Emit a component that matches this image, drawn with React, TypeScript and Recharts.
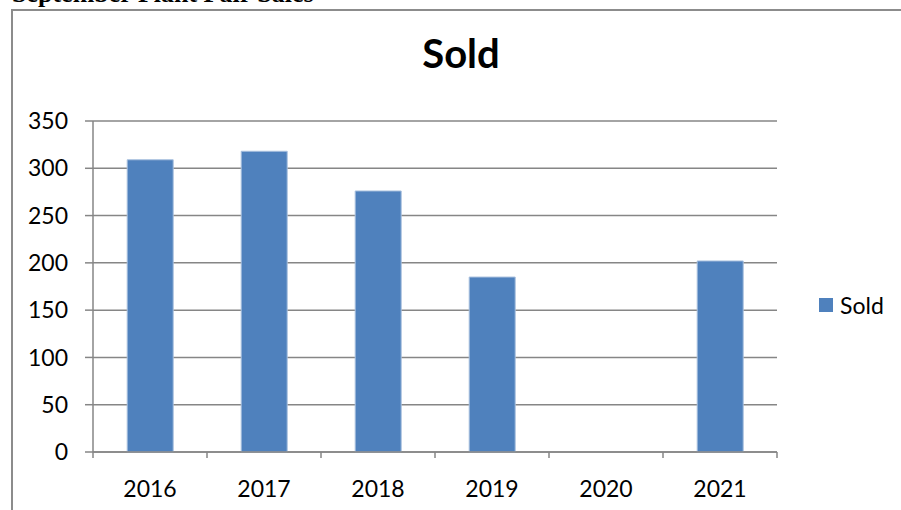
import { BarChart, Bar, XAxis, YAxis, CartesianGrid, Legend } from 'recharts'

const years = ['2016', '2017', '2018', '2019', '2020', '2021']
const sold = [309, 318, 276, 185, 0, 202]
const yTicks = [0, 50, 100, 150, 200, 250, 300, 350]

const chartData = years.map((year, i) => ({ year, Sold: sold[i] }))

const GRAY = '#868686'
const BLUE = '#4f81bd'

// ticks sit on the category borders, the labels in the middle
function YearTick(props: any) {
  const { x, y, payload, index } = props
  const half = 57
  return (
    <g>
      <line x1={x - half} y1={y - 6} x2={x - half} y2={y} stroke={GRAY} strokeWidth={1.5} />
      {index === years.length - 1 && (
        <line x1={x + half} y1={y - 6} x2={x + half} y2={y} stroke={GRAY} strokeWidth={1.5} />
      )}
      <text x={x} y={y + 39} textAnchor="middle" fill="#000" fontSize={23} fontFamily="Lato">
        {payload.value}
      </text>
    </g>
  )
}

function SoldLegend() {
  return (
    <div style={{ display: 'flex', alignItems: 'center', fontFamily: 'Lato', fontSize: 23, color: '#000' }}>
      <span style={{ width: 14, height: 14, background: BLUE, marginRight: 7, display: 'inline-block' }} />
      Sold
    </div>
  )
}

export default function App() {
  return (
    <div style={{ position: 'absolute', left: 0, top: 0, width: 901, height: 510, overflow: 'hidden', background: '#fff' }}>
      <div
        style={{
          position: 'absolute',
          left: 12,
          top: -19,
          fontFamily: '"Liberation Serif", serif',
          fontWeight: 'bold',
          fontSize: 26,
          lineHeight: '26px',
          whiteSpace: 'nowrap',
        }}
      >
        September Plant Fair Sales
      </div>
      <div
        style={{
          position: 'absolute',
          left: 11,
          top: 9,
          width: 1000,
          height: 600,
          border: '2px solid #8c8c8c',
        }}
      />
      <div
        style={{
          position: 'absolute',
          left: 361,
          top: 33,
          width: 200,
          textAlign: 'center',
          fontFamily: 'Lato',
          fontWeight: 'bold',
          fontSize: 40,
          lineHeight: '40px',
        }}
      >
        Sold
      </div>
      <div style={{ position: 'absolute', left: 0, top: 0 }}>
        <BarChart
          width={901}
          height={510}
          data={chartData}
          margin={{ top: 121, right: 42, left: 0, bottom: 0 }}
          barCategoryGap="30%"
        >
          <CartesianGrid horizontal vertical={false} stroke={GRAY} strokeWidth={1.5} />
          <XAxis
            dataKey="year"
            height={58}
            stroke={GRAY}
            strokeWidth={1.5}
            tickLine={false}
            tickSize={6}
            tickMargin={0}
            tick={<YearTick />}
            interval={0}
          />
          <YAxis
            width={93}
            domain={[0, 350]}
            ticks={yTicks}
            stroke={GRAY}
            strokeWidth={1.5}
            tickSize={8}
            tickMargin={17}
            tick={{ fill: '#000', fontSize: 23, fontFamily: 'Lato' }}
          />
          <Legend
            layout="vertical"
            align="right"
            verticalAlign="middle"
            content={<SoldLegend />}
            wrapperStyle={{ left: 819, top: 291, right: 'auto', width: 82 }}
          />
          <Bar dataKey="Sold" fill={BLUE} stroke="#a9c0de" strokeWidth={1} isAnimationActive={false} />
        </BarChart>
      </div>
    </div>
  )
}
